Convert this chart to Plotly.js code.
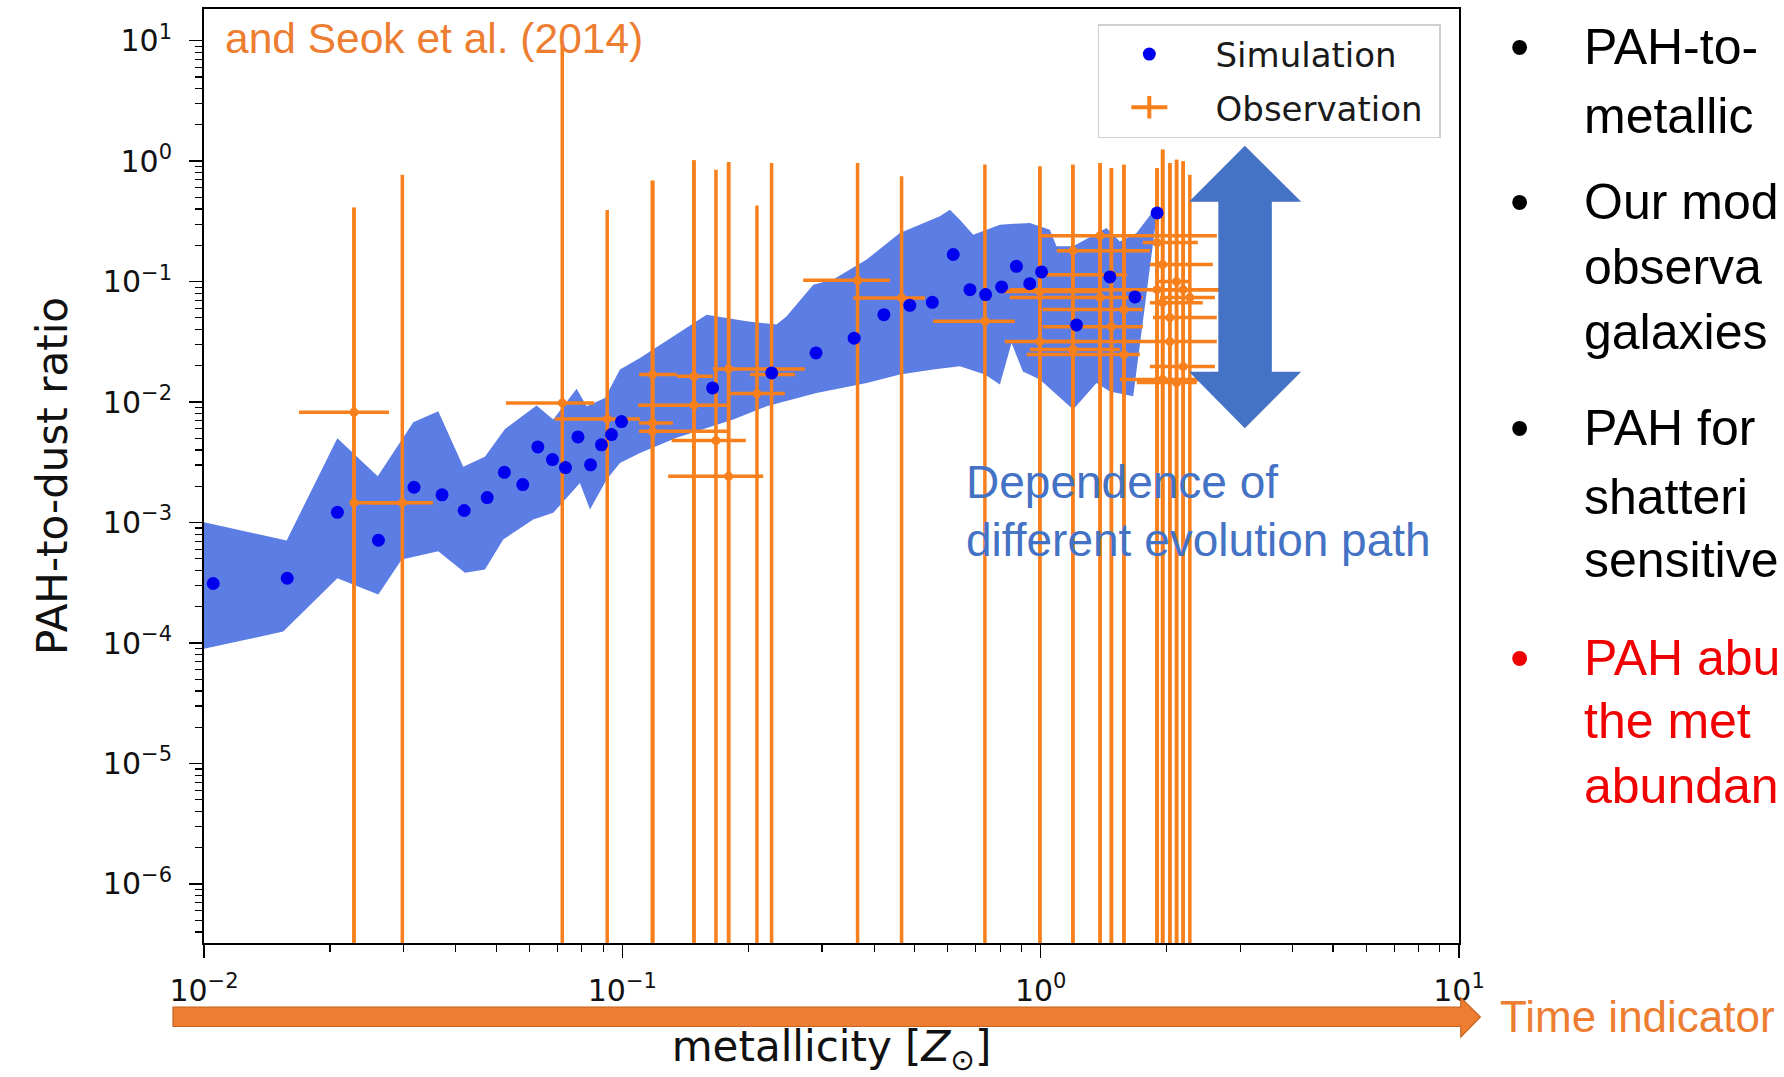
<!DOCTYPE html>
<html>
<head>
<meta charset="utf-8">
<script src="https://cdn.plot.ly/plotly-3.0.1.min.js"></script>
<style>html,body{margin:0;padding:0;background:#fff;overflow:hidden}</style>
</head>
<body>
<div id="chart" style="width:1784px;height:1077px"></div>
<script>
// ---------------- data ----------------
// Simulation (blue dots): metallicity [Zsun], PAH-to-dust ratio
var simX = [0.01052, 0.01581, 0.02084, 0.02612, 0.03177, 0.03707, 0.04188, 0.04753, 0.05224, 0.05781,
            0.06281, 0.06808, 0.07311, 0.07834, 0.08395, 0.08913, 0.09419, 0.09954, 0.1644, 0.2275,
            0.2904, 0.3583, 0.4219, 0.4866, 0.5508, 0.618, 0.6776, 0.7387, 0.8065, 0.875,
            0.9419, 1.005, 1.218, 1.464, 1.680, 1.898];
var simY = [3.12e-4, 3.45e-4, 1.216e-3, 7.13e-4, 1.963e-3, 1.698e-3, 1.259e-3, 1.611e-3, 2.612e-3, 2.065e-3,
            4.246e-3, 3.334e-3, 2.858e-3, 5.14e-3, 3.013e-3, 4.416e-3, 5.37e-3, 6.887e-3, 0.01312, 0.01747,
            0.0256, 0.0339, 0.0532, 0.0636, 0.0673, 0.168, 0.0858, 0.078, 0.0903, 0.134,
            0.0962, 0.1203, 0.0437, 0.1094, 0.0746, 0.3715];

// Simulation spread (shaded band): upper and lower envelopes
var bandUpperX = [0.0100, 0.01576, 0.02083, 0.02602, 0.03164, 0.03631, 0.04166, 0.04694, 0.05241, 0.06238,
                  0.06836, 0.07775, 0.08218, 0.09086, 0.09870, 0.1102, 0.1590, 0.1982, 0.2337, 0.2470,
                  0.2860, 0.3192, 0.3837, 0.4608, 0.5742, 0.6067, 0.6410, 0.6898, 0.7990, 0.9423,
                  1.052, 1.091, 1.196, 1.437, 1.546, 1.695, 1.857, 1.906];
var bandUpperY = [1.006e-3, 7.10e-4, 5.01e-3, 2.42e-3, 6.80e-3, 8.39e-3, 2.90e-3, 3.51e-3, 5.99e-3, 9.35e-3,
                  7.16e-3, 0.01288, 9.23e-3, 0.01083, 0.01862, 0.02328, 0.0532, 0.0469, 0.0440, 0.0515,
                  0.0944, 0.1039, 0.1523, 0.2536, 0.3483, 0.3958, 0.3269, 0.2455, 0.2972, 0.3070,
                  0.2701, 0.1963, 0.1963, 0.2790, 0.2148, 0.2536, 0.3833, 0.4217];
var bandLowerX = [0.0100, 0.01547, 0.02083, 0.02610, 0.02969, 0.03631, 0.04205, 0.04694, 0.05192, 0.06124,
                  0.06836, 0.07918, 0.08369, 0.09173, 0.09870, 0.1102, 0.1348, 0.1841, 0.2213, 0.2913,
                  0.3837, 0.4608, 0.5534, 0.6410, 0.7357, 0.7990, 0.8519, 0.9068, 0.9956, 1.196,
                  1.360, 1.464, 1.664];
var bandLowerY = [8.95e-5, 1.246e-4, 3.45e-4, 2.527e-4, 4.93e-4, 5.78e-4, 3.825e-4, 4.07e-4, 7.23e-4, 1.059e-3,
                  1.204e-3, 2.135e-3, 1.282e-3, 2.275e-3, 3.129e-3, 3.788e-3, 5.05e-3, 7.16e-3, 9.23e-3, 0.01192,
                  0.01443, 0.01691, 0.01862, 0.01982, 0.01691, 0.01397, 0.03098, 0.01791, 0.01537, 8.67e-3,
                  0.01443, 0.01222, 0.01117];

// Observations (orange error bars)
var obsX = [0.02283, 0.02283, 0.02979, 0.07185, 0.09202, 0.1181, 0.1483, 0.1795, 0.1483, 0.1181,
            0.1181, 0.1674, 0.1795, 0.2098, 0.2274, 0.3650, 0.4651, 0.7357,
            0.9956, 0.9956, 1.194, 1.194, 1.387, 1.387, 1.476, 1.476, 1.581, 1.581,
            1.897, 1.897, 1.957, 1.957, 2.036, 2.036, 2.113, 2.113, 2.191, 2.191, 2.273, 1.957];
var obsY = [8.23e-3, 1.457e-3, 1.457e-3, 9.85e-3, 7.255e-3, 0.01691, 0.01637, 0.01886, 9.405e-3, 6.72e-3,
            5.72e-3, 4.79e-3, 2.42e-3, 0.01176, 0.01691, 0.1025, 0.0732, 0.04684,
            0.0826, 0.0318, 0.1808, 0.0273, 0.0737, 0.2408, 0.1143, 0.0423, 0.0586, 0.0248,
            0.2108, 0.0858, 0.1384, 0.0669, 0.0503, 0.0318, 0.1000, 0.01451, 0.0858, 0.0197, 0.0737, 0.01537];
var obsYerr = [0.403, 0.410, 0.771, 9.167, 0.385, 0.672, 0.999, 0.966, 1.006, 0.682,
               0.683, 0.845, 0.982, 0.416, 0.949, 0.864, 0.675, 0.889,
               0.822, 0.873, 0.754, 0.908, 0.892, 0.725, 0.764, 0.836, 0.876, 0.910,
               0.667, 0.792, 1.108, 1.179, 0.916, 0.934, 0.929, 1.014, 0.910, 0.976, 0.699, 1.231];
var obsXlow = [0.01687, 0.02245, 0.02492, 0.05270, 0.06901, 0.1096, 0.1350, 0.1646, 0.1090, 0.1096,
               0.1096, 0.1312, 0.1287, 0.1808, 0.2018, 0.2706, 0.3563, 0.5534,
               0.799, 0.8209, 1.093, 0.9423, 0.844, 0.9956, 1.012, 1.012, 1.012, 0.9268,
               1.755, 0.844, 1.824, 1.824, 1.855, 1.012, 1.897, 1.698, 1.824, 1.824, 1.927, 1.546];
var obsXhigh = [0.02768, 0.02941, 0.03526, 0.08567, 0.1102, 0.1350, 0.1646, 0.2731, 0.1788, 0.1321,
                0.1788, 0.1974, 0.2172, 0.2446, 0.2585, 0.4361, 0.5287, 0.8675,
                1.385, 1.241, 1.824, 1.546, 1.755, 2.637, 1.607, 1.755, 1.755, 1.726,
                2.375, 2.682, 2.580, 2.441, 2.637, 2.637, 2.273, 2.362, 2.682, 2.609, 2.609, 2.401];

// Tick labels
var xTickVals = [0.01, 0.1, 1, 10];
var xTickText = ['10<sup>\u22122</sup>', '10<sup>\u22121</sup>', '10<sup>0</sup>', '10<sup>1</sup>'];
var yTickVals = [1e-6, 1e-5, 1e-4, 1e-3, 1e-2, 1e-1, 1, 10];
var yTickText = ['10<sup>\u22126</sup>', '10<sup>\u22125</sup>', '10<sup>\u22124</sup>', '10<sup>\u22123</sup>',
                 '10<sup>\u22122</sup>', '10<sup>\u22121</sup>', '10<sup>0</sup>', '10<sup>1</sup>'];

// Slide text at the right (as much as the slide shows of it)
var bulletLines = ['PAH-to-', 'metallic', 'Our mod', 'observa', 'galaxies',
                   'PAH for', 'shatteri', 'sensitive', 'PAH abu', 'the met', 'abundan'];
var bulletColors = ['#000', '#000', '#000', '#000', '#000', '#000', '#000', '#000', '#f00000', '#f00000', '#f00000'];
var bulletStarts = [true, false, true, false, false, true, false, false, true, false, false];

// ---------------- styling ----------------
var ORANGE = '#f7801c';
var SIMBLUE = '#0000ee';
var BAND = '#5b7de4';
var SLIDE_ORANGE = '#ed7d31';
var SLIDE_BLUE = '#4472c4';
var AXFONT = 'DejaVu Sans, Verdana, sans-serif';
var SLIDEFONT = 'Liberation Sans, Arial, sans-serif';
var GAP = '\u00a0\u00a0\u00a0\u00a0';

var bandX = bandUpperX.concat(bandLowerX.slice().reverse());
var bandY = bandUpperY.concat(bandLowerY.slice().reverse());

var errPlus = obsX.map(function (v, i) { return obsXhigh[i] - v; });
var errMinus = obsX.map(function (v, i) { return v - obsXlow[i]; });

var traces = [
  {x: bandX, y: bandY, mode: 'lines', fill: 'toself', fillcolor: BAND,
   line: {width: 0, color: BAND}, showlegend: false, hoverinfo: 'skip'},
  {x: obsX, y: obsY, mode: 'markers', name: 'Observation', showlegend: false,
   marker: {color: ORANGE, size: 9},
   error_x: {type: 'data', symmetric: false, array: errPlus, arrayminus: errMinus,
             color: ORANGE, thickness: 3.5, width: 0},
   error_y: {type: 'data', symmetric: true, array: obsYerr,
             color: ORANGE, thickness: 3.5, width: 0}},
  {x: simX, y: simY, mode: 'markers', name: GAP + 'Simulation\u00a0', legendgroup: 'sim',
   marker: {color: SIMBLUE, size: 13}},
  {x: [null], y: [null], mode: 'lines+markers', name: GAP + 'Observation\u00a0', legendgroup: 'obs',
   line: {color: ORANGE, width: 4},
   marker: {symbol: 'line-ns-open', size: 16, color: ORANGE, line: {color: ORANGE, width: 4}}}
];

// pixel -> paper helpers for decorations only
var L = 204, R = 1459.2, T = 9, B = 943;
function px(x) { return (x - L) / (R - L); }
function py(y) { return (B - y) / (B - T); }

var annotations = [
  {text: 'and Seok et al. (2014)', xref: 'paper', yref: 'paper', x: px(223), y: py(38),
   xanchor: 'left', yanchor: 'middle', showarrow: false,
   font: {family: SLIDEFONT, size: 42.5, color: SLIDE_ORANGE}},
  {text: 'Dependence of', xref: 'paper', yref: 'paper', x: px(964), y: py(482),
   xanchor: 'left', yanchor: 'middle', showarrow: false,
   font: {family: SLIDEFONT, size: 46, color: SLIDE_BLUE}},
  {text: 'different evolution path', xref: 'paper', yref: 'paper', x: px(964), y: py(540),
   xanchor: 'left', yanchor: 'middle', showarrow: false,
   font: {family: SLIDEFONT, size: 46, color: SLIDE_BLUE}},
  {text: 'Time indicator', xref: 'paper', yref: 'paper', x: px(1498), y: py(1017),
   xanchor: 'left', yanchor: 'middle', showarrow: false,
   font: {family: SLIDEFONT, size: 44, color: SLIDE_ORANGE}}
];
var lineCenters = [47, 116, 202, 267, 331.5, 428, 497, 559.5, 658, 721, 786];
bulletLines.forEach(function (t, i) {
  annotations.push({text: t, xref: 'paper', yref: 'paper', x: px(1582), y: py(lineCenters[i]),
    xanchor: 'left', yanchor: 'middle', showarrow: false,
    font: {family: SLIDEFONT, size: 50, color: bulletColors[i]}});
  if (bulletStarts[i]) {
    annotations.push({text: '\u2022', xref: 'paper', yref: 'paper', x: px(1520), y: py(lineCenters[i]),
      xanchor: 'center', yanchor: 'middle', showarrow: false,
      font: {family: SLIDEFONT, size: 55, color: bulletColors[i]}});
  }
});

function pathFrom(pts) {
  return 'M' + pts.map(function (p) { return px(p[0]).toFixed(5) + ',' + py(p[1]).toFixed(5); }).join(' L') + ' Z';
}
var shapes = [
  {type: 'path', xref: 'paper', yref: 'paper', layer: 'above',
   path: pathFrom([[1245, 145.7], [1301.4, 201.7], [1272, 201.7], [1272, 371.7], [1301.4, 371.7],
                   [1245, 428.3], [1189.2, 371.7], [1218.5, 371.7], [1218.5, 201.7], [1189.2, 201.7]]),
   fillcolor: SLIDE_BLUE, line: {width: 0}},
  {type: 'path', xref: 'paper', yref: 'paper', layer: 'above',
   path: pathFrom([[173, 1007], [1461, 1007], [1461, 997.6], [1480.6, 1017], [1461, 1037],
                   [1461, 1026.5], [173, 1026.5]]),
   fillcolor: SLIDE_ORANGE, line: {width: 1.2, color: '#c4621f'}}
];

var axisCommon = {
  type: 'log', ticks: 'outside', ticklen: 13, tickwidth: 1.6, tickcolor: '#000',
  showline: true, linecolor: '#000', linewidth: 2, mirror: true,
  showgrid: false, zeroline: false, automargin: false, tickmode: 'array',
  tickfont: {family: AXFONT, size: 30, color: '#111'},
  minor: {dtick: 'D1', ticks: 'outside', ticklen: 7, tickwidth: 1.2, tickcolor: '#000', showgrid: false}
};

var layout = {
  width: 1784, height: 1077,
  margin: {l: L, r: 1784 - R, t: T, b: 1077 - B, pad: 0},
  paper_bgcolor: '#fff', plot_bgcolor: '#fff',
  showlegend: true,
  legend: {x: px(1441), xanchor: 'right', y: py(24), yanchor: 'top',
           bgcolor: 'rgba(255,255,255,0.85)', bordercolor: '#d0d0d0', borderwidth: 1.5,
           font: {family: AXFONT, size: 34, color: '#1a1a1a'},
           indentation: 27, itemwidth: 36, tracegroupgap: 6, traceorder: 'grouped'},
  xaxis: Object.assign({}, axisCommon, {
    range: [-2, 1], tickvals: xTickVals, ticktext: xTickText, ticklabelstandoff: 7,
    title: {text: 'metallicity [<i>Z</i><sub>\u2299</sub>]', standoff: 43,
            font: {family: AXFONT, size: 42, color: '#111'}}
  }),
  yaxis: Object.assign({}, axisCommon, {
    range: [-6.49, 1.263], tickvals: yTickVals, ticktext: yTickText, ticklabelstandoff: 11,
    title: {text: 'PAH-to-dust ratio', standoff: 22,
            font: {family: AXFONT, size: 42, color: '#111'}}
  }),
  annotations: annotations,
  shapes: shapes
};

Plotly.newPlot('chart', traces, layout, {displayModeBar: false, staticPlot: true});
</script>
</body>
</html>
